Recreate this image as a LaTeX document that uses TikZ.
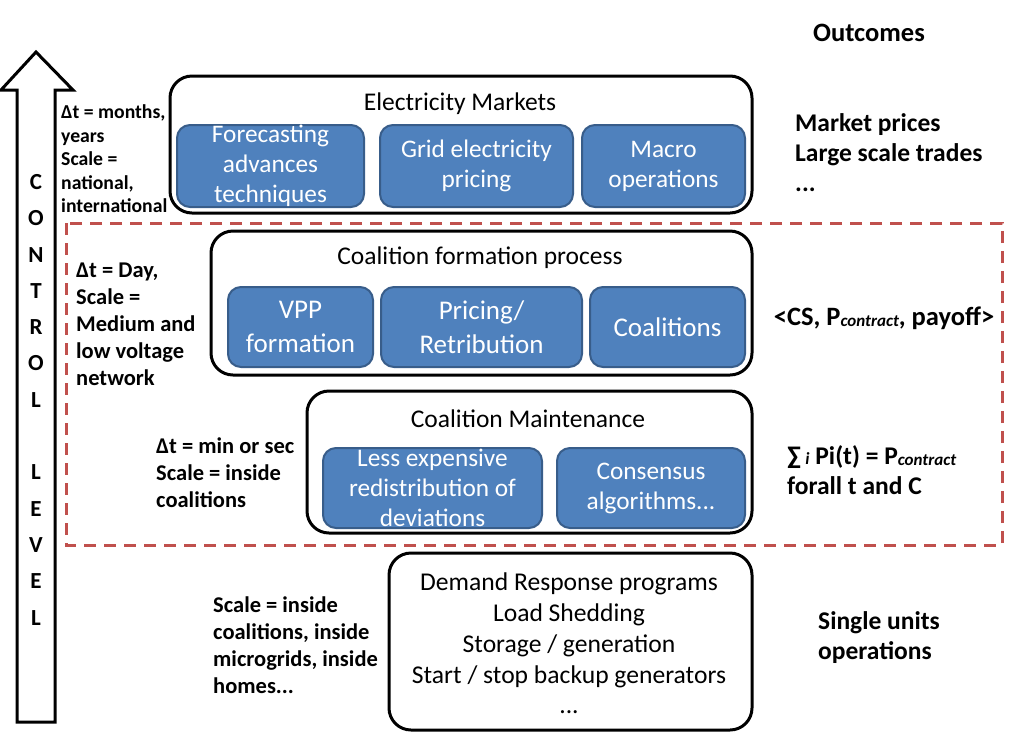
\documentclass[tikz,border=0pt]{standalone}
\usepackage{fontspec}
\setmainfont{Carlito}
\definecolor{bfill}{HTML}{4F81BD}
\definecolor{bedge}{HTML}{385D8A}
\definecolor{dred}{HTML}{C0504D}
\newcommand{\fs}[2]{\fontsize{#1}{#2}\selectfont}
\newcommand{\Pc}{P{\raisebox{-1.5pt}{\fs{17}{17}\itshape contract}}}
\begin{document}
\begin{tikzpicture}[x=1pt,y=-1pt,
  outerbox/.style={draw=black,line width=3pt,rounded corners=22pt,fill=white,inner sep=0pt},
  bluebox/.style={draw=bedge,line width=2pt,fill=bfill,rounded corners=13pt,inner sep=0pt},
  bt/.style={text=white,align=center,inner sep=0pt,font=\fs{25.3}{30}},
  btl/.style={text=white,align=center,inner sep=0pt,font=\fs{27}{34}},
  title/.style={inner sep=0pt,font=\fs{25.5}{30}},
  lblA/.style={anchor=west,align=left,inner sep=0pt,font=\bfseries\fs{19.7}{23.5}},
  lblB/.style={anchor=west,align=left,inner sep=0pt,font=\bfseries\fs{22.5}{27}},
  lblC/.style={anchor=west,align=left,inner sep=0pt,font=\bfseries\fs{25.5}{30}},
  letter/.style={inner sep=0pt,font=\bfseries\fs{23}{26}}]
\useasboundingbox[fill=white] (0,0) rectangle (1014,740);

% control arrow
\draw[line width=3pt,line join=miter,fill=white] (17,722) -- (17,90) -- (1,90) -- (36,52) -- (73,90) -- (55,90) -- (55,722) -- cycle;
\foreach \l [count=\i from 0] in {C,O,N,T,R,O,L,,L,E,V,E,L}{
  \node[letter] (let\i) at (36,{182+36.3*\i}) {\l};
}

% red dashed region
\draw[dred,line width=3pt,dash pattern=on 12pt off 8pt] (66,223) rectangle (1002,545);

% Electricity markets
\node[outerbox,minimum width=582pt,minimum height=137pt] (em) at (461,144.5) {};
\node[title] (emt) at (460,104) {Electricity Markets};
\node[bluebox,minimum width=187pt,minimum height=82pt] (fa) at (270.5,166) {};
\node[bt] (fat) at (fa) {Forecasting\\advances\\techniques};
\node[bluebox,minimum width=193pt,minimum height=82pt] (gp) at (476.5,166) {};
\node[bt] (gpt) at (gp) {Grid electricity\\pricing};
\node[bluebox,minimum width=163pt,minimum height=82pt] (mo) at (663.5,166) {};
\node[bt] (mot) at (mo) {Macro\\operations};

% Coalition formation
\node[outerbox,minimum width=541pt,minimum height=144pt] (cf) at (481.5,303) {};
\node[title] (cft) at (480,258) {Coalition formation process};
\node[bluebox,minimum width=145pt,minimum height=80pt] (vpp) at (300.5,327) {};
\node[btl] (vppt) at (vpp) {VPP\\formation};
\node[bluebox,minimum width=201pt,minimum height=80pt] (pr) at (481.5,327) {};
\node[btl] (prt) at (pr) {Pricing/\\Retribution};
\node[bluebox,minimum width=155pt,minimum height=80pt] (co) at (667.5,327) {};
\node[btl] (cot) at (co) {Coalitions};

% Coalition maintenance
\node[outerbox,minimum width=445pt,minimum height=142pt] (cm) at (529.5,462) {};
\node[title] (cmt) at (528,419) {Coalition Maintenance};
\node[bluebox,minimum width=219pt,minimum height=80pt] (le) at (432.5,488) {};
\node[bt] (let) at (le) {Less expensive\\redistribution of\\deviations};
\node[bluebox,minimum width=188pt,minimum height=80pt] (ca) at (651,488) {};
\node[bt] (cat) at (ca) {Consensus\\algorithms...};

% Demand response
\node[outerbox,minimum width=363pt,minimum height=177pt] (dr) at (570.5,641.5) {};
\node[align=center,inner sep=0pt,font=\fs{25.6}{30.75}] (drt) at (569,643.5) {Demand Response programs\\Load Shedding\\Storage / generation\\Start / stop backup generators\\...};

% left labels
\node[lblA] (l1) at (61,159) {Δt = months,\\years\\Scale =\\national,\\international};
\node[lblB] (l2) at (76,324.5) {Δt = Day,\\Scale =\\Medium and\\low voltage\\network};
\node[lblB] (l3) at (156,473) {Δt = min or sec\\Scale = inside\\coalitions};
\node[lblB] (l4) at (213,645) {Scale = inside\\coalitions, inside\\microgrids, inside\\homes...};

% outcomes
\node[inner sep=0pt,font=\bfseries\fs{26.5}{30}] (out) at (869,33) {Outcomes};
\node[lblC] (r1) at (795,153) {Market prices\\Large scale trades\\...};
\node[inner sep=0pt,font=\bfseries\fs{26.5}{30}] (r2) at (884,318) {<CS, \Pc, payoff>};
\node[lblC] (r3) at (787,470) {∑\,{\fs{17}{17}\itshape i} Pi(t) = \Pc\\forall t and C};
\node[lblC] (r4) at (818,638) {Single units\\operations};
\end{tikzpicture}
\end{document}
